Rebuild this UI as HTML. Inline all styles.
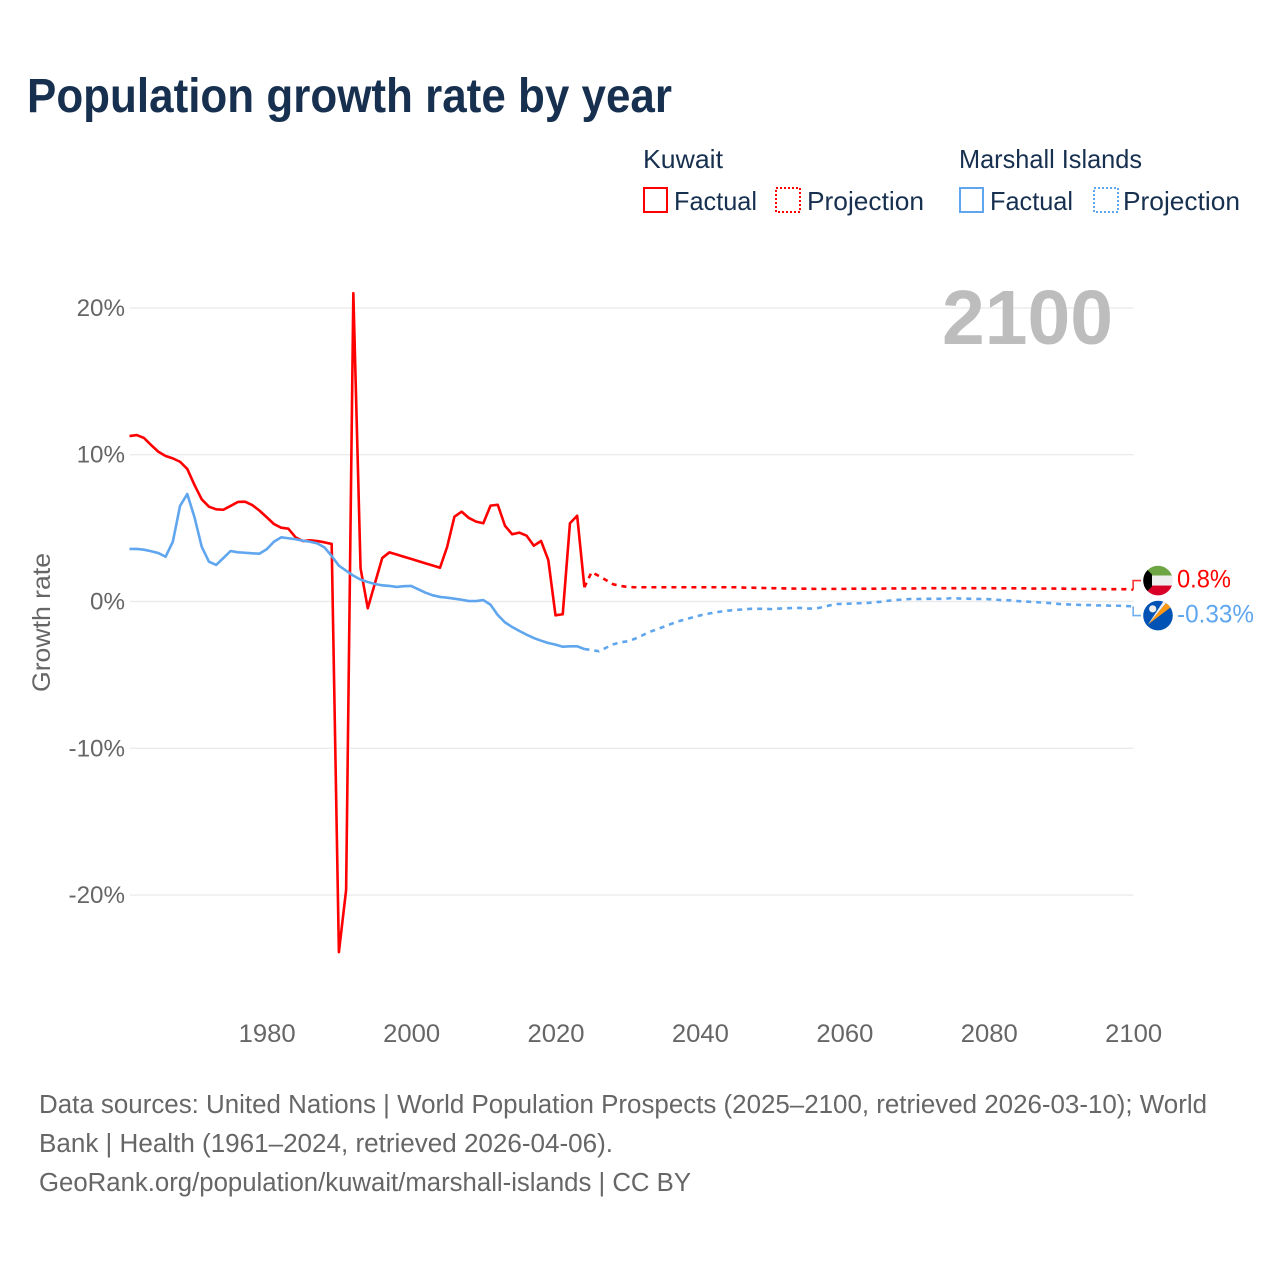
<!DOCTYPE html>
<html lang="en">
<head>
<meta charset="utf-8">
<title>Population growth rate by year</title>
<style>
html,body{margin:0;padding:0;background:#fff;}
svg{display:block;font-family:"Liberation Sans",Arial,sans-serif;}
</style>
</head>
<body>
<svg id="chart" xmlns="http://www.w3.org/2000/svg" width="1280" height="1280" viewBox="0 0 1280 1280">
  <rect x="0" y="0" width="1280" height="1280" fill="#fff"/>
  <text x="27" y="112" font-size="48" font-weight="700" fill="#17304f" textLength="645" lengthAdjust="spacingAndGlyphs">Population growth rate by year</text>

  <g font-size="26" fill="#17304f">
    <text x="643" y="168" textLength="80" lengthAdjust="spacingAndGlyphs">Kuwait</text>
    <text x="959" y="168" textLength="183" lengthAdjust="spacingAndGlyphs">Marshall Islands</text>
    <rect x="644" y="188" width="23" height="24" fill="none" stroke="#ff0000" stroke-width="2"/>
    <text x="674" y="210" textLength="83" lengthAdjust="spacingAndGlyphs">Factual</text>
    <rect x="776" y="188" width="24" height="24" fill="none" stroke="#ff0000" stroke-width="2" stroke-dasharray="2 2"/>
    <text x="807" y="210" textLength="117" lengthAdjust="spacingAndGlyphs">Projection</text>
    <rect x="960" y="188" width="23" height="24" fill="none" stroke="#5fa6ee" stroke-width="2"/>
    <text x="990" y="210" textLength="83" lengthAdjust="spacingAndGlyphs">Factual</text>
    <rect x="1094" y="188" width="24" height="24" fill="none" stroke="#5fa6ee" stroke-width="2" stroke-dasharray="2 2"/>
    <text x="1123" y="210" textLength="117" lengthAdjust="spacingAndGlyphs">Projection</text>
  </g>

  <g id="grid"></g>
  <g id="yticks" font-size="24.2" fill="#666"></g>
  <g id="xticks" font-size="24.6" fill="#666"></g>
  <text transform="translate(50,622.5) rotate(-90)" text-anchor="middle" font-size="25" fill="#666" textLength="139" lengthAdjust="spacingAndGlyphs">Growth rate</text>

  <text id="year-label" x="942" y="344" font-size="77" font-weight="700" fill="#bdbdbd" textLength="171" lengthAdjust="spacingAndGlyphs">2100</text>

  <g id="series"></g>
  <g id="ends"></g>

  <defs>
    <clipPath id="clip-kw"><circle cx="0" cy="0" r="14.8"/></clipPath>
    <clipPath id="clip-mh"><circle cx="0" cy="0" r="14.8"/></clipPath>
  </defs>
  <g id="flag-kw">
    <g clip-path="url(#clip-kw)">
      <rect x="-15" y="-15" width="30" height="10" fill="#6da544"/>
      <rect x="-15" y="-5" width="30" height="10" fill="#eeeeee"/>
      <rect x="-15" y="5" width="30" height="10" fill="#d80027"/>
      <polygon points="-15,-15 -6,-6 -6,6 -15,15" fill="#000"/>
    </g>
  </g>
  <g id="flag-mh">
    <g clip-path="url(#clip-mh)">
      <rect x="-15" y="-15" width="30" height="30" fill="#0052b4"/>
      <polygon points="-10,9 10,-15 15,-10" fill="#ff9811"/>
      <polygon points="-10,9 6,-15 10,-15" fill="#f0f0f0"/>
      <circle cx="-5.3" cy="-6.7" r="3.6" fill="#eeeeee"/>
    </g>
  </g>

  <g font-size="25.5" fill="#666">
    <text x="39" y="1113" textLength="1168" lengthAdjust="spacingAndGlyphs">Data sources: United Nations | World Population Prospects (2025–2100, retrieved 2026-03-10); World</text>
    <text x="39" y="1152" textLength="574" lengthAdjust="spacingAndGlyphs">Bank | Health (1961–2024, retrieved 2026-04-06).</text>
    <text x="39" y="1191" textLength="652" lengthAdjust="spacingAndGlyphs">GeoRank.org/population/kuwait/marshall-islands | CC BY</text>
  </g>
</svg>
<script>
const factualStartYear = 1961;
const projectionStartYear = 2024;
const yTickValues = [20, 10, 0, -10, -20];
const yTickLabels = ["20%", "10%", "0%", "-10%", "-20%"];
const xTickYears = [1980, 2000, 2020, 2040, 2060, 2080, 2100];

const kuwaitFactual = [
  11.27, 11.34, 11.14, 10.66, 10.2, 9.91, 9.75, 9.52, 9.03, 7.94,
  6.96, 6.46, 6.28, 6.25, 6.51, 6.78, 6.8, 6.57, 6.19, 5.74,
  5.28, 5.03, 4.96, 4.37, 4.12, 4.17, 4.12, 4.03, 3.92, -23.88,
  -19.65, 21.0, 2.26, -0.46, 1.26, 2.96, 3.35, 3.2, 3.05, 2.9,
  2.75, 2.6, 2.45, 2.3, 3.73, 5.78, 6.12, 5.69, 5.44, 5.33,
  6.53, 6.59, 5.16, 4.58, 4.69, 4.48, 3.8, 4.12, 2.83, -0.94,
  -0.87, 5.33, 5.84, 0.97
];
const kuwaitProjection = [
  0.97, 2.0, 1.74, 1.46, 1.17, 1.06, 0.99,
  0.97, 0.97, 0.97, 0.97, 0.97, 0.97, 0.97, 0.97, 0.97, 0.97, 0.97, 0.97, 0.97, 0.97, 0.97,
  0.95, 0.94, 0.93, 0.92, 0.91, 0.9, 0.89, 0.88, 0.87, 0.87,
  0.86, 0.86, 0.86, 0.86, 0.86, 0.87, 0.87, 0.87, 0.87, 0.87,
  0.89, 0.89, 0.89, 0.89, 0.89, 0.91, 0.91, 0.91, 0.91, 0.91,
  0.91, 0.91, 0.91, 0.91, 0.91, 0.9, 0.9, 0.9, 0.9, 0.9,
  0.88, 0.88, 0.88, 0.88, 0.88, 0.86, 0.86, 0.86, 0.86, 0.86,
  0.84, 0.84, 0.84, 0.84, 0.8
];
const marshallFactual = [
  3.58, 3.58, 3.53, 3.42, 3.3, 3.05, 4.07, 6.51, 7.32, 5.74,
  3.73, 2.71, 2.49, 2.96, 3.44, 3.35, 3.32, 3.28, 3.26, 3.56,
  4.07, 4.37, 4.31, 4.24, 4.14, 4.07, 3.96, 3.69, 3.1, 2.44,
  2.1, 1.76, 1.49, 1.33, 1.19, 1.1, 1.06, 0.99, 1.04, 1.06,
  0.83, 0.6, 0.42, 0.31, 0.26, 0.19, 0.12, 0.03, 0.03, 0.1,
  -0.22, -0.92, -1.42, -1.74, -2.01, -2.26, -2.49, -2.67, -2.83, -2.94,
  -3.08, -3.05, -3.05, -3.24
];
const marshallProjection = [
  -3.24, -3.3, -3.39, -3.15, -2.92, -2.78, -2.71, -2.54, -2.31, -2.08, -1.9,
  -1.72, -1.53, -1.35, -1.22, -1.08, -0.95, -0.85, -0.75, -0.68, -0.62,
  -0.57, -0.54, -0.5, -0.5, -0.5, -0.52, -0.48, -0.46, -0.44, -0.44,
  -0.48, -0.48, -0.38, -0.26, -0.17, -0.16, -0.14, -0.12, -0.11, -0.06,
  -0.02, 0.05, 0.1, 0.13, 0.17, 0.17, 0.18, 0.18, 0.18, 0.19,
  0.24, 0.2, 0.19, 0.18, 0.17, 0.16, 0.12, 0.09, 0.08, 0.03,
  0, -0.03, -0.06, -0.09, -0.13, -0.18, -0.2, -0.22, -0.24, -0.24,
  -0.27, -0.26, -0.29, -0.29, -0.31, -0.33
];
const kuwaitEndLabel = "0.8%";
const marshallEndLabel = "-0.33%";

const NS = "http://www.w3.org/2000/svg";
const RED = "#ff0000";
const BLUE = "#5fa6ee";
const LINE_WIDTH = 2.6;
const xScale = function (year) { return 129.5 + (year - 1961) * 7.2205; };
const yScale = function (v) { return 601.5 - v * 14.68; };

function make(tag, parent, attrs) {
  const el = document.createElementNS(NS, tag);
  Object.keys(attrs).forEach(function (k) { el.setAttribute(k, attrs[k]); });
  parent.appendChild(el);
  return el;
}

const gridGroup = document.getElementById("grid");
const yTickGroup = document.getElementById("yticks");
yTickValues.forEach(function (v, i) {
  const line = make("line", gridGroup, { x1: 130, x2: 1133.5, y1: yScale(v), y2: yScale(v), stroke: "#ebebeb", "stroke-width": 1.4 });
  
  
  const label = make("text", yTickGroup, { x: 125, y: yScale(v) + 8, "text-anchor": "end" });
  
  
  label.textContent = yTickLabels[i];
});

const xTickGroup = document.getElementById("xticks");
xTickYears.forEach(function (year) {
  const label = make("text", xTickGroup, { x: xScale(year) + 0.5, y: 1042, "text-anchor": "middle", textLength: 57, lengthAdjust: "spacingAndGlyphs" });
  
  
  label.textContent = String(year);
});

function pointsFor(values, startYear) {
  return values.map(function (v, i) {
    return xScale(startYear + i).toFixed(2) + "," + yScale(v).toFixed(2);
  }).join(" ");
}

const seriesGroup = document.getElementById("series");

const kuwaitFactualLine = make("polyline", seriesGroup, { points: pointsFor(kuwaitFactual, factualStartYear), fill: "none", stroke: RED, "stroke-width": LINE_WIDTH, "stroke-linejoin": "round" });



const kuwaitProjectionLine = make("polyline", seriesGroup, { points: pointsFor(kuwaitProjection, projectionStartYear), fill: "none", stroke: RED, "stroke-width": LINE_WIDTH, "stroke-dasharray": "5 5", "stroke-linejoin": "round" });



const marshallFactualLine = make("polyline", seriesGroup, { points: pointsFor(marshallFactual, factualStartYear), fill: "none", stroke: BLUE, "stroke-width": LINE_WIDTH, "stroke-linejoin": "round" });



const marshallProjectionLine = make("polyline", seriesGroup, { points: pointsFor(marshallProjection, projectionStartYear), fill: "none", stroke: BLUE, "stroke-width": LINE_WIDTH, "stroke-dasharray": "5 5", "stroke-linejoin": "round" });



// End labels: dodged around the midpoint of the two final values
const endsGroup = document.getElementById("ends");
const kuwaitEndY = yScale(kuwaitProjection[kuwaitProjection.length - 1]);
const marshallEndY = yScale(marshallProjection[marshallProjection.length - 1]);
const midY = (kuwaitEndY + marshallEndY) / 2;
const kuwaitLabelY = midY - 17.5;
const marshallLabelY = midY + 17.5;
const endX = xScale(2100);

const kuwaitConnector = make("polyline", endsGroup, { points: endX + "," + kuwaitEndY + " " + endX + "," + kuwaitLabelY + " 1141," + kuwaitLabelY, fill: "none", stroke: RED, "stroke-width": 1.6, opacity: 0.8 });



const marshallConnector = make("polyline", endsGroup, { points: endX + "," + marshallEndY + " " + endX + "," + marshallLabelY + " 1141," + marshallLabelY, fill: "none", stroke: BLUE, "stroke-width": 1.6, opacity: 0.9 });



const kuwaitValue = make("text", endsGroup, { x: 1177, y: kuwaitLabelY + 7, "font-size": 25, fill: RED, textLength: 54, lengthAdjust: "spacingAndGlyphs" });


kuwaitValue.textContent = kuwaitEndLabel;

const marshallValue = make("text", endsGroup, { x: 1177, y: marshallLabelY + 7, "font-size": 25, fill: BLUE, textLength: 77, lengthAdjust: "spacingAndGlyphs" });


marshallValue.textContent = marshallEndLabel;

document.getElementById("flag-kw").setAttribute("transform", "translate(1158," + kuwaitLabelY + ")");
document.getElementById("flag-mh").setAttribute("transform", "translate(1158," + marshallLabelY + ")");
</script>
</body>
</html>
